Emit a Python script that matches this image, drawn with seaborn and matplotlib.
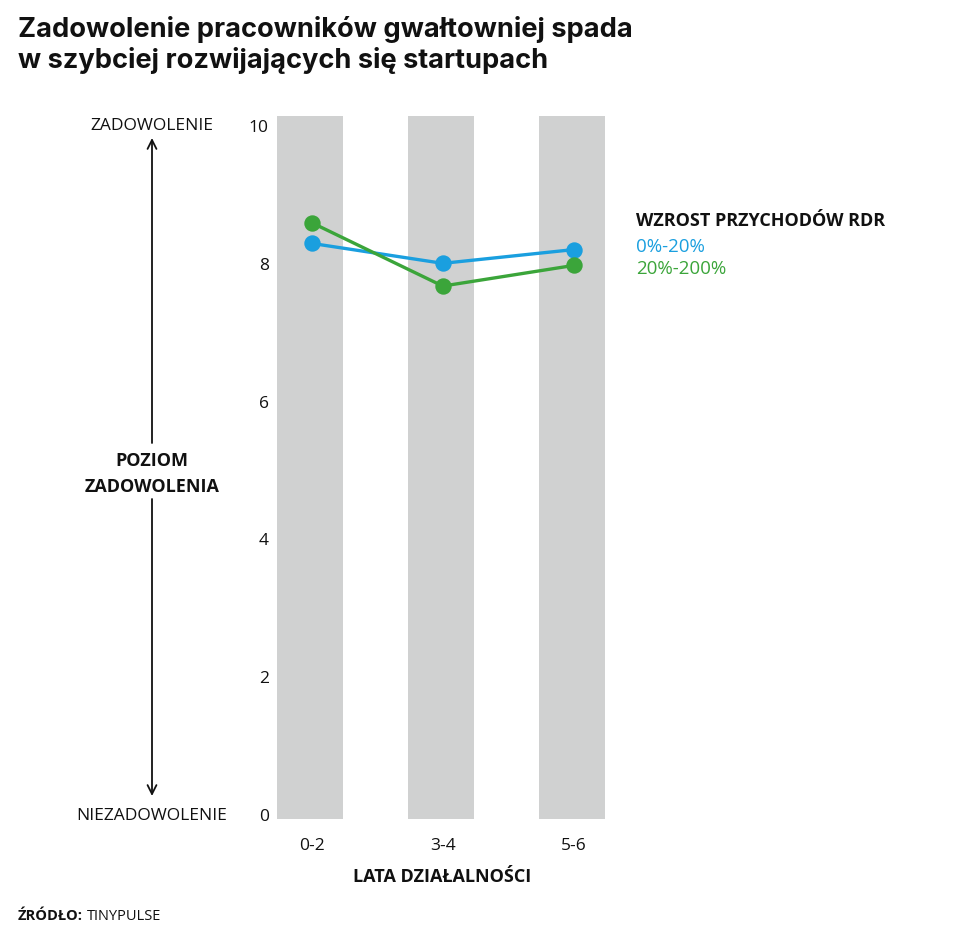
import matplotlib
matplotlib.use("Agg")
import matplotlib.pyplot as plt
import seaborn as sns
import pandas as pd

# ---- data ----
categories = ["0-2", "3-4", "5-6"]
series_names = ["0%-20%", "20%-200%"]
blue_values = [8.30, 8.01, 8.21]
green_values = [8.60, 7.68, 7.98]
y_ticks = [0, 2, 4, 6, 8, 10]
band_top = 10.15
band_bottom = -0.06

BLUE = "#1a9fdf"
GREEN = "#3ba53a"
GRAY = "#d0d1d1"

df = pd.DataFrame({
    "lata": categories * 2,
    "value": blue_values + green_values,
    "series": [series_names[0]] * 3 + [series_names[1]] * 3,
})

sns.set_theme(style="white")
plt.rcParams['font.family'] = ['Open Sans', 'DejaVu Sans']

W, H = 960, 939
fig = plt.figure(figsize=(W / 100, H / 100), dpi=100)
fig.patch.set_facecolor("white")

def fx(px):
    return px / W

def fy(py):
    return 1 - py / H

ax_left, ax_right, ax_top, ax_bottom = 277, 640, 116, 819
ax = fig.add_axes([fx(ax_left), fy(ax_bottom), fx(ax_right - ax_left), (ax_bottom - ax_top) / H])
ax.set_facecolor("white")

# background bands
band_x = [i - 0.015 for i in range(len(categories))]
ax.bar(band_x, [band_top - band_bottom] * len(categories),
       bottom=band_bottom, width=0.5, color=GRAY, zorder=0, linewidth=0)

sns.pointplot(data=df, x="lata", y="value", hue="series",
              palette=[BLUE, GREEN], markers="o", ax=ax, legend=False,
              markersize=10, linewidth=2.4, errorbar=None)
for coll in ax.collections:
    coll.set_zorder(3)
for ln in ax.lines:
    ln.set_zorder(3)

ax.set_xlim(-0.265, 2.505)
ax.set_ylim(band_bottom, band_top)
ax.set_yticks(y_ticks)
ax.set_yticklabels([str(t) for t in y_ticks], fontsize=12.5, color="#111111")
ax.set_xticks(range(len(categories)))
ax.set_xticklabels(categories, fontsize=12.5, color="#111111")
ax.tick_params(axis="y", length=0, pad=6)
ax.tick_params(axis="x", length=0, pad=14)
ax.set_xlabel("")
ax.set_ylabel("")
for s in ax.spines.values():
    s.set_visible(False)

# x axis title
fig.text(fx(442), fy(877), "LATA DZIAŁALNOŚCI", ha="center", va="center",
         fontsize=13, fontweight="bold", color="#111111")

# title
title_fam = ["Inter", "Open Sans", "DejaVu Sans"]
fig.text(fx(18), fy(37), "Zadowolenie pracowników gwałtowniej spada",
         ha="left", va="baseline", fontsize=19.6, fontweight="bold",
         color="#111111", family=title_fam)
fig.text(fx(18), fy(68), "w szybciej rozwijających się startupach",
         ha="left", va="baseline", fontsize=19.6, fontweight="bold",
         color="#111111", family=title_fam)

# legend
fig.text(fx(636), fy(226), "WZROST PRZYCHODÓW RDR", ha="left", va="baseline",
         fontsize=13, fontweight="bold", color="#111111")
fig.text(fx(636), fy(252), series_names[0], ha="left", va="baseline",
         fontsize=13.5, color=BLUE)
fig.text(fx(636), fy(274), series_names[1], ha="left", va="baseline",
         fontsize=13.5, color=GREEN)

# left annotation
cx = 152
fig.text(fx(cx), fy(126), "ZADOWOLENIE", ha="center", va="center",
         fontsize=12.5, color="#111111")
fig.text(fx(cx), fy(816), "NIEZADOWOLENIE", ha="center", va="center",
         fontsize=12.5, color="#111111")
fig.text(fx(cx), fy(461), "POZIOM", ha="center", va="center",
         fontsize=13, fontweight="bold", color="#111111")
fig.text(fx(cx), fy(487), "ZADOWOLENIA", ha="center", va="center",
         fontsize=13, fontweight="bold", color="#111111")

arrowprops = dict(arrowstyle="->", color="#111111", lw=1.3,
                  mutation_scale=16, shrinkA=0, shrinkB=0)
fig.add_artist(matplotlib.patches.FancyArrowPatch(
    (fx(cx), fy(443)), (fx(cx), fy(138)), transform=fig.transFigure, **arrowprops))
fig.add_artist(matplotlib.patches.FancyArrowPatch(
    (fx(cx), fy(499)), (fx(cx), fy(796)), transform=fig.transFigure, **arrowprops))

# source
t = fig.text(fx(18), fy(920), "ŹRÓDŁO:", ha="left", va="baseline",
             fontsize=10.5, fontweight="bold", color="#111111")
fig.canvas.draw()
bb = t.get_window_extent()
fig.text(bb.x1 / W + 4 / W, fy(920), "TINYPULSE", ha="left", va="baseline",
         fontsize=10.5, color="#111111")

fig.savefig("out.png", dpi=100, facecolor="white")
